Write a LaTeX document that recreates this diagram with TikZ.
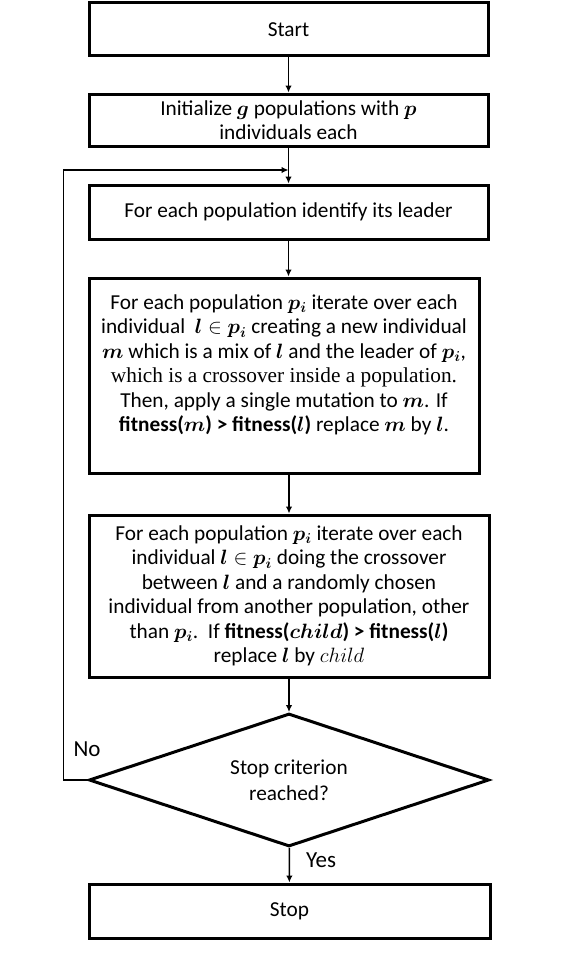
\documentclass[tikz,border=0pt]{standalone}
\usepackage{amsmath,amssymb,bm}
\usepackage{fontspec}
\setmainfont{Carlito}
\newfontfamily\cambriaish{Liberation Serif}
\usepackage{tikz}
\usetikzlibrary{positioning,arrows.meta,shapes.geometric}

\begin{document}
\begin{tikzpicture}[x=1pt, y=-1pt, font=\fontsize{21.3}{24.5}\selectfont,
  procbox/.style={draw, line width=3pt, align=center, inner sep=0pt},
  flow/.style={-{Latex[length=7pt, width=6.5pt]}, line width=1.5pt}]
\useasboundingbox (0,0) rectangle (579,958);
% process boxes
\node[procbox, minimum width=399, minimum height=53] (start) at (288.5,29.5) {Start};
\node[procbox, minimum width=399, minimum height=52] (init) at (288.5,120)
  {Initialize $\bm{g}$ populations with $\bm{p}$\\ individuals each};
\node[procbox, minimum width=399, minimum height=54] (leader) at (288.5,212)
  {For each population identify its leader};
\node[procbox, minimum width=390, minimum height=195] (mix) at (284,375.5)
  {For each population $\bm{p_i}$ iterate over each\\
   individual\ \ $\bm{l} \in \bm{p_i}$ creating a new individual\\
   $\bm{m}$ which is a mix of $\bm{l}$ and the leader of $\bm{p_i}$,\\
   {\cambriaish which is a crossover inside a population.}\\
   Then, apply a single mutation to $\bm{m}$. If\\
   \textbf{fitness($\bm{m}$) > fitness($\bm{l}$)} replace $\bm{m}$ by $\bm{l}$.\\
   \mbox{}};
\node[procbox, minimum width=400, minimum height=162] (cross) at (289,596)
  {For each population $\bm{p_i}$ iterate over each\\
   individual $\bm{l} \in \bm{p_i}$ doing the crossover\\
   between $\bm{l}$ and a randomly chosen\\
   individual from another population, other\\
   than $\bm{p_i}$.\ \ If \textbf{fitness($\bm{child}$) > fitness($\bm{l}$)}\\
   replace $\bm{l}$ by $child$};
% decision
\node[draw, line width=3pt, diamond, aspect=3, inner sep=0pt,
  minimum width=400, minimum height=133, align=center] (check) at (289,780)
  {Stop criterion\\[2pt] reached?};
\node[procbox, minimum width=401, minimum height=54] (stop) at (289.5,911) {Stop};
% connectors
\coordinate (join) at (288.5,170);
\draw[flow] (start) -- (init);
\draw[flow] (init) -- (leader);
\draw[flow] (leader) -- (leader |- mix.north);
\draw[flow] (mix.south -| cross) -- (cross);
\draw[flow] (cross) -- (check);
\draw[flow] (check) -- (stop);
\draw[flow] (check.west) -- ++(-24,0) |- (join);
\node[font=\fontsize{23}{26}\selectfont] (no) at (87,749) {No};
\node[font=\fontsize{23}{26}\selectfont] (yes) at (321,860) {Yes};
\end{tikzpicture}
\end{document}
